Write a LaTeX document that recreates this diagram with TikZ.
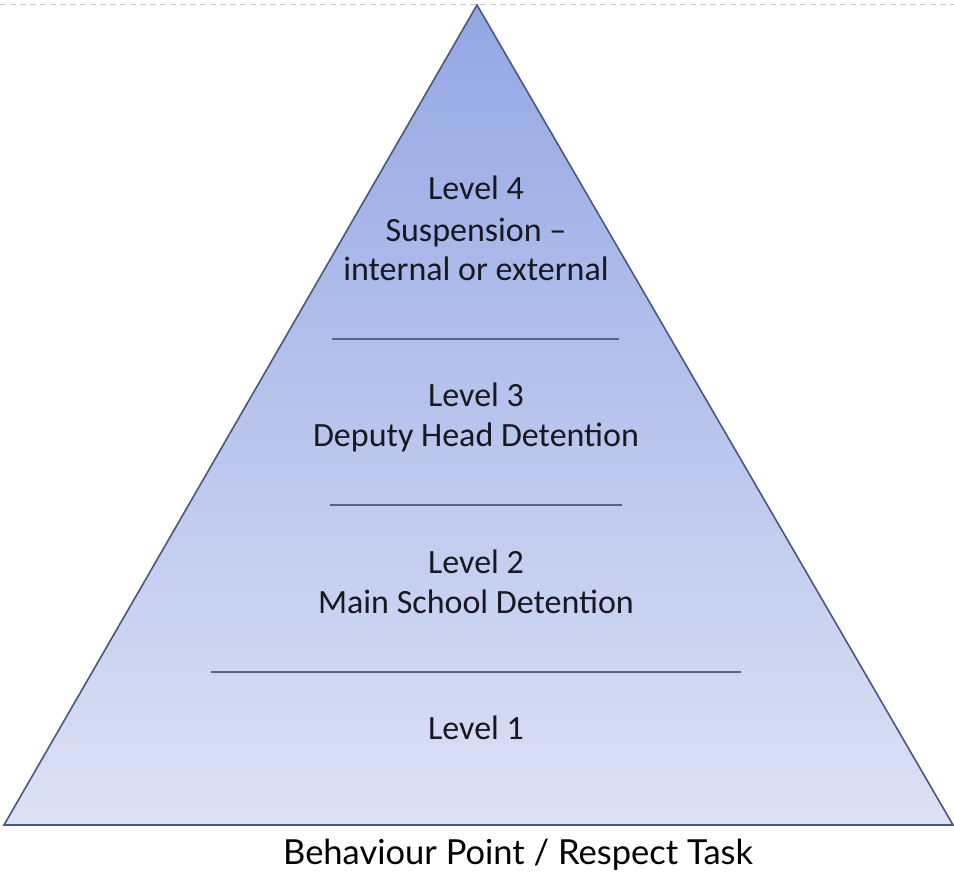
\documentclass[tikz,border=0pt]{standalone}
\usepackage{fontspec}
\setmainfont{Carlito}
\newfontfamily\capfont{Lato}
\definecolor{edgec}{RGB}{72,88,130}
\definecolor{linec}{RGB}{88,100,132}
\definecolor{toptone}{RGB}{148,167,228}
\definecolor{bottone}{RGB}{220,225,245}
\definecolor{txt}{RGB}{24,24,32}
\definecolor{dashc}{RGB}{200,200,204}
\tikzset{
  lvltext/.style={anchor=base, inner sep=0pt, text=txt, font=\fontsize{34}{41}\selectfont},
  captext/.style={anchor=base west, inner sep=0pt, text=black, font=\capfont\fontsize{34.5}{41}\selectfont},
  divider/.style={draw=linec, line width=1.5pt},
  pyramid/.style={draw=edgec, line width=1.6pt, line join=miter}
}
\begin{document}
\begin{tikzpicture}[x=1pt,y=1pt]
\useasboundingbox (0,0) rectangle (954,872);
% top dashed border
\coordinate (dl) at (0,868);
\coordinate (dr) at (954,868);
\draw[dashc, line width=0.8pt, dash pattern=on 6pt off 4pt] (dl) -- (dr);
% pyramid
\coordinate (apex) at (477,867);
\coordinate (bl) at (4,47);
\coordinate (br) at (953,47);
\shade[top color=toptone, bottom color=bottone] (apex) -- (br) -- (bl) -- cycle;
\draw[pyramid] (apex) -- (br) -- (bl) -- cycle;
% dividers
\coordinate (a1) at (332,533); \coordinate (a2) at (619,533);
\coordinate (b1) at (330,367); \coordinate (b2) at (622,367);
\coordinate (c1) at (211,200); \coordinate (c2) at (741,200);
\draw[divider] (a1) -- (a2);
\draw[divider] (b1) -- (b2);
\draw[divider] (c1) -- (c2);
% texts
\node[lvltext] (l4a) at (476,672) {Level 4};
\node[lvltext] (l4b) at (476,630) {Suspension –};
\node[lvltext] (l4c) at (476,591) {internal or external};
\node[lvltext] (l3a) at (476,465) {Level 3};
\node[lvltext] (l3b) at (476,425) {Deputy Head Detention};
\node[lvltext] (l2a) at (476,298) {Level 2};
\node[lvltext] (l2b) at (476,258) {Main School Detention};
\node[lvltext] (l1a) at (476,132) {Level 1};
\node[captext] (cap) at (283,7) {Behaviour Point / Respect Task};
\end{tikzpicture}
\end{document}
